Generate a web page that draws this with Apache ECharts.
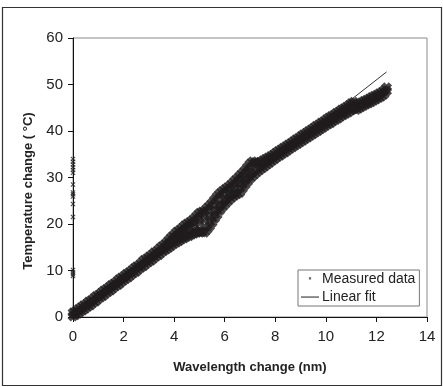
<!DOCTYPE html>
<html>
<head>
<meta charset="utf-8">
<script src="https://cdn.jsdelivr.net/npm/echarts@6/dist/echarts.min.js"></script>
<style>html,body{margin:0;padding:0;background:#fff}#c{width:443px;height:387px}</style>
</head>
<body>
<div id="c"></div>
<script>
// Tick values
var xTicks = [0, 2, 4, 6, 8, 10, 12, 14];
var yTicks = [0, 10, 20, 30, 40, 50, 60];

// Measured data: lower branch (x nm, y °C)
var lowerBranch = [
[0.0,0.2],[0.1,0.5],[0.2,0.8],[0.3,1.2],[0.4,1.5],[0.5,1.9],[0.6,2.3],[0.7,2.6],[0.8,3.1],[0.9,3.4],
[1.0,3.9],[1.1,4.3],[1.2,4.6],[1.3,5.1],[1.4,5.5],[1.5,5.8],[1.6,6.3],[1.7,6.7],[1.8,7.0],[1.9,7.5],
[2.0,7.9],[2.1,8.3],[2.2,8.6],[2.3,9.1],[2.4,9.5],[2.5,9.8],[2.6,10.3],[2.7,10.7],[2.8,11.0],[2.9,11.5],
[3.0,11.9],[3.1,12.2],[3.2,12.7],[3.3,13.1],[3.4,13.4],[3.5,13.9],[3.6,14.3],[3.7,14.6],[3.8,15.0],[3.9,15.4],
[4.0,15.8],[4.1,16.1],[4.2,16.4],[4.3,16.8],[4.4,17.0],[4.5,17.3],[4.6,17.5],[4.7,17.8],[4.8,18.0],[4.9,18.2],
[5.0,18.4],[5.1,18.3],[5.2,18.2],[5.3,18.8],[5.4,19.5],[5.5,20.3],[5.6,21.2],[5.7,22.0],[5.8,22.9],[5.9,23.6],
[6.0,24.2],[6.1,24.8],[6.2,25.3],[6.3,25.8],[6.4,26.2],[6.5,26.5],[6.6,26.8],[6.7,27.6],[6.8,28.4],[6.9,29.1],
[7.0,29.8],[7.1,30.3],[7.2,30.8],[7.3,31.3],[7.4,31.7],[7.5,32.1],[7.6,32.5],[7.7,32.9],[7.8,33.3],[7.9,33.7],
[8.0,34.1],[8.1,34.5],[8.2,34.8],[8.3,35.2],[8.4,35.5],[8.5,35.9],[8.6,36.3],[8.7,36.6],[8.8,37.0],[8.9,37.3],
[9.0,37.7],[9.1,38.0],[9.2,38.4],[9.3,38.7],[9.4,39.1],[9.5,39.4],[9.6,39.8],[9.7,40.1],[9.8,40.5],[9.9,40.8],
[10.0,41.2],[10.1,41.5],[10.2,41.8],[10.3,42.2],[10.4,42.5],[10.5,42.8],[10.6,43.2],[10.7,43.5],[10.8,43.8],[10.9,44.1],
[11.0,44.5],[11.1,44.8],[11.2,44.6],[11.3,44.9],[11.4,45.2],[11.5,45.5],[11.6,45.8],[11.7,46.0],[11.8,46.3],[11.9,46.6],
[12.0,46.9],[12.1,47.2],[12.2,47.5],[12.3,47.9],[12.4,48.6]
];

// Measured data: upper branch
var upperBranch = [
[0.0,0.9],[0.1,1.2],[0.2,1.6],[0.3,2.0],[0.4,2.4],[0.5,2.7],[0.6,3.2],[0.7,3.5],[0.8,3.9],[0.9,4.4],
[1.0,4.7],[1.1,5.1],[1.2,5.6],[1.3,5.9],[1.4,6.3],[1.5,6.8],[1.6,7.1],[1.7,7.5],[1.8,8.0],[1.9,8.4],
[2.0,8.7],[2.1,9.2],[2.2,9.5],[2.3,9.9],[2.4,10.4],[2.5,10.8],[2.6,11.1],[2.7,11.6],[2.8,12.2],[2.9,12.5],
[3.0,12.9],[3.1,13.3],[3.2,13.8],[3.3,14.1],[3.4,14.6],[3.5,15.1],[3.6,15.5],[3.7,16.0],[3.8,16.6],[3.9,17.2],
[4.0,17.7],[4.1,18.3],[4.2,18.6],[4.3,19.1],[4.4,19.6],[4.5,20.0],[4.6,20.3],[4.7,20.7],[4.8,21.2],[4.9,21.8],
[5.0,22.3],[5.1,22.6],[5.2,22.8],[5.3,23.4],[5.4,23.9],[5.5,24.5],[5.6,25.2],[5.7,25.9],[5.8,26.5],[5.9,27.0],
[6.0,27.4],[6.1,27.8],[6.2,28.2],[6.3,28.7],[6.4,29.3],[6.5,29.8],[6.6,30.4],[6.7,30.9],[6.8,31.5],[6.9,32.2],
[7.0,32.9],[7.1,33.4],[7.2,33.2],[7.3,33.0],[7.4,33.3],[7.5,33.6],[7.6,33.9],[7.7,34.2],[7.8,34.5],[7.9,34.8],
[8.0,35.2],[8.1,35.6],[8.2,35.9],[8.3,36.3],[8.4,36.6],[8.5,37.0],[8.6,37.3],[8.7,37.7],[8.8,38.1],[8.9,38.4],
[9.0,38.8],[9.1,39.2],[9.2,39.5],[9.3,39.9],[9.4,40.2],[9.5,40.6],[9.6,41.0],[9.7,41.3],[9.8,41.7],[9.9,42.0],
[10.0,42.4],[10.1,42.8],[10.2,43.1],[10.3,43.4],[10.4,43.8],[10.5,44.1],[10.6,44.5],[10.7,44.8],[10.8,45.1],[10.9,45.5],
[11.0,45.9],[11.1,46.2],[11.2,45.5],[11.3,45.8],[11.4,46.1],[11.5,46.4],[11.6,46.6],[11.7,46.9],[11.8,47.2],[11.9,47.5],
[12.0,47.7],[12.1,48.0],[12.2,48.3],[12.3,48.7],[12.4,49.3]
];

// Measured data: middle strand inside the loop
var middleStrand = [
[3.8,15.8],[4.0,17.0],[4.2,17.8],[4.4,18.5],[4.6,19.2],[4.8,19.8],[5.0,20.3],[5.2,20.9],
[5.4,21.7],[5.6,22.8],[5.8,24.0],[6.0,25.3],[6.2,26.5],[6.4,27.7],[6.6,28.8],[6.8,29.8],[7.0,31.2]
];

// Measured data: outliers at zero wavelength change
var zeroOutliers = [
[0,8.8],[0,9.2],[0,9.6],[0,10.1],[0,21.5],[0,24.3],[0,25.9],[0,26.4],[0,26.8],
[0,28.5],[0,31.0],[0,31.6],[0,32.2],[0,32.8],[0,33.4],[0,34.0]
];

// Linear fit end points
var fitLine = [[0, 0], [12.4, 52.7]];

var measured = lowerBranch.concat(upperBranch, middleStrand);

var xPath = 'path://M0,3L3,0L5,2L7,0L10,3L8,5L10,7L7,10L5,8L3,10L0,7L2,5Z';
var xThin = 'path://M0,1.5L1.5,0L5,3.5L8.5,0L10,1.5L6.5,5L10,8.5L8.5,10L5,6.5L1.5,10L0,8.5L3.5,5Z';
var xLegendPath = 'path://M0,0M32,0M32,24M0,24M13.6,9.4L14.6,8.4L16,9.8L17.4,8.4L18.4,9.4L17,10.8L18.4,12.2L17.4,13.2L16,11.8L14.6,13.2L13.6,12.2L15,10.8Z';
var lineLegendPath = 'path://M0,0M18,0M18,14M0,14M0,6.5L18,6.5L18,7.6L0,7.6Z';

var chart = echarts.init(document.getElementById('c'), null, {renderer: 'canvas'});
var font = 'Liberation Sans, Arial, Helvetica, sans-serif';
chart.setOption({
  animation: false,
  backgroundColor: '#fff',
  textStyle: {fontFamily: font},
  grid: {left: 73, right: 16, top: 38, bottom: 70, show: true, borderColor: '#8a8a8a', borderWidth: 1},
  xAxis: {
    type: 'value', min: xTicks[0], max: xTicks[xTicks.length - 1], interval: 2,
    name: 'Wavelength change (nm)', nameLocation: 'middle', nameGap: 44,
    nameTextStyle: {fontFamily: font, fontSize: 13, fontWeight: 'bold', color: '#222'},
    axisLine: {lineStyle: {color: '#111', width: 1}},
    axisTick: {inside: false, length: 5, lineStyle: {color: '#111'}},
    axisLabel: {fontFamily: font, fontSize: 15, color: '#222', margin: 12},
    splitLine: {show: false}
  },
  yAxis: {
    type: 'value', min: yTicks[0], max: yTicks[yTicks.length - 1], interval: 10,
    axisLine: {show: true, lineStyle: {color: '#111', width: 1}},
    axisTick: {show: true, inside: false, length: 5, lineStyle: {color: '#111'}},
    axisLabel: {fontFamily: font, fontSize: 15, color: '#222', margin: 10},
    splitLine: {show: false}
  },
  legend: {
    orient: 'vertical', left: 298, top: 270,
    backgroundColor: '#fff', borderColor: '#777', borderWidth: 1,
    padding: [2, 4, 2, 3], itemGap: 4, itemWidth: 18, itemHeight: 14,
    textStyle: {fontFamily: font, fontSize: 14, color: '#222', padding: [0, 0, 0, -2]},
    data: [
      {name: 'Measured data', icon: xLegendPath, itemStyle: {color: '#231f20'}},
      {name: 'Linear fit', icon: lineLegendPath, itemStyle: {color: '#333'}}
    ]
  },
  graphic: [
    {type: 'rect', shape: {x: 2.5, y: 7.5, width: 439, height: 378}, style: {fill: 'none', stroke: '#333', lineWidth: 1.2}, silent: true},
    {type: 'text', x: 28, y: 191, rotation: Math.PI / 2,
     style: {text: 'Temperature change ( °C)', fontFamily: font, fontSize: 13, fontWeight: 'bold', fill: '#222', textAlign: 'center', textVerticalAlign: 'middle'}}
  ],
  series: [
    {
      name: 'Measured data', type: 'scatter', data: measured,
      symbol: xPath, symbolSize: 11, itemStyle: {color: '#1f1c1d'}, z: 3
    },
    {
      name: 'Measured data', type: 'scatter', data: zeroOutliers,
      symbol: xThin, symbolSize: 5, itemStyle: {color: '#231f20'}, z: 3
    },
    {
      name: 'Linear fit', type: 'line', data: fitLine, symbol: 'none', showSymbol: false,
      lineStyle: {color: '#333', width: 1}, itemStyle: {color: '#333'}, z: 2
    }
  ]
});
</script>
</body>
</html>
